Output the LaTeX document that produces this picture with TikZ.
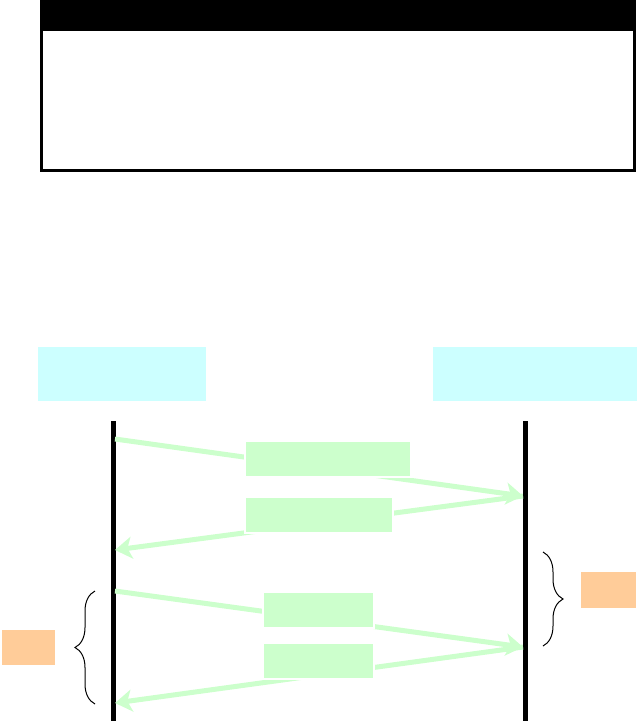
\documentclass[tikz,border=0pt]{standalone}
\usepackage{xcolor}
\usepackage{tikz}
\usetikzlibrary{arrows.meta, positioning, decorations.pathreplacing}
\definecolor{partycyan}{RGB}{204, 255, 255}
\definecolor{msggreen}{RGB}{204, 255, 204}
\definecolor{noteorange}{RGB}{255, 204, 153}

\begin{document}
\begin{tikzpicture}[
			x=0.2mm, y=-0.2mm,
			party/.style={rectangle, fill=partycyan, minimum height=10.8mm, inner sep=0pt},
			msglabel/.style={rectangle, fill=msggreen, draw=white, line width=0.4mm, minimum height=7.2mm, inner sep=0pt},
			note/.style={rectangle, fill=noteorange, minimum height=7mm, inner sep=0pt},
			lifeline/.style={line width=1mm, black},
			msg/.style={-{Stealth[length=3.4mm, width=4.4mm, inset=0.9mm]}, line width=1mm, msggreen},
			span/.style={decorate, decoration={brace, amplitude=4mm}, line width=0.2mm}
		]
		\useasboundingbox (0,0) rectangle (637,721);
		\fill[black] (40,0) rectangle (636,31);
		\draw[line width=0.6mm] (41.5,1) rectangle (634.5,170);
		
		\node[party, minimum width=33.6mm] (client) at (122,374) {};
		\node[party, minimum width=40.8mm] (server) at (535,374) {};
		
		\coordinate (ctop) at (113,421);
		\coordinate (cbot) at (113,721);
		\coordinate (stop) at (525,421);
		\coordinate (sbot) at (525,721);
		\draw[lifeline] (ctop) -- (cbot);
		\draw[lifeline] (stop) -- (sbot);
		
		\coordinate (c1) at (115,439);
		\coordinate (c2) at (115,550);
		\coordinate (c3) at (115,591);
		\coordinate (c4) at (115,703);
		\coordinate (s1) at (523,496);
		\coordinate (s2) at (523,647);
		
		\draw[msg] (c1) -- (s1);
		\draw[msg] (s1) -- (c2);
		\draw[msg] (c3) -- (s2);
		\draw[msg] (s2) -- (c4);
		
		\node[msglabel, minimum width=33.2mm] (req1) at (328,459) {};
		\node[msglabel, minimum width=29.6mm] (resp1) at (319,515) {};
		\node[msglabel, minimum width=22.2mm] (req2) at (318.5,610) {};
		\node[msglabel, minimum width=22.2mm] (resp2) at (318.5,661) {};
		
		\coordinate (lbot) at (95,704);
		\coordinate (ltop) at (95,591);
		\coordinate (rtop) at (543,552);
		\coordinate (rbot) at (543,646);
		\draw[span] (lbot) -- (ltop);
		\draw[span] (rtop) -- (rbot);
		
		\node[note, minimum width=10.6mm] (clientnote) at (28.5,647.5) {};
		\node[note, minimum width=11mm, minimum height=7.2mm] (servernote) at (608.5,590) {};
		\end{tikzpicture}
\end{document}
